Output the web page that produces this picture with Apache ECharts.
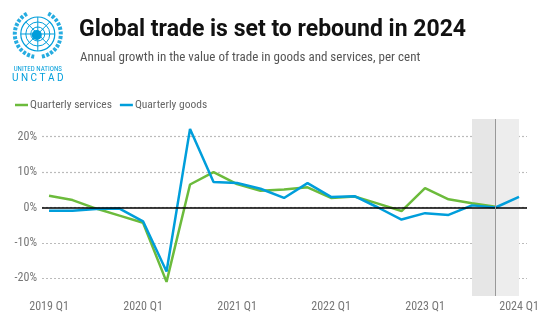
<!DOCTYPE html>
<html>
<head>
<meta charset="utf-8">
<script src="https://cdn.jsdelivr.net/npm/echarts@6/dist/echarts.min.js"></script>
<style>html,body{margin:0;padding:0;background:#fff}#c{width:543px;height:325px}</style>
</head>
<body>
<div id="c"></div>
<script>
const categories = ['2019 Q1','2019 Q2','2019 Q3','2019 Q4','2020 Q1','2020 Q2','2020 Q3','2020 Q4','2021 Q1','2021 Q2','2021 Q3','2021 Q4','2022 Q1','2022 Q2','2022 Q3','2022 Q4','2023 Q1','2023 Q2','2023 Q3','2023 Q4','2024 Q1'];
const services = [3.3, 2.1, -0.3, -2.3, -4.3, -21.0, 6.5, 10.0, 6.6, 4.7, 5.1, 5.7, 2.7, 3.1, 1.1, -1.0, 5.5, 2.3, 1.2, 0.2, null];
const goods = [-0.9, -0.9, -0.4, -0.3, -3.9, -18.1, 22.2, 7.2, 6.9, 5.3, 2.7, 6.9, 3.0, 3.2, 0.0, -3.4, -1.6, -2.1, 0.6, 0.0, 3.0];
const xTickLabels = ['2019 Q1','2020 Q1','2021 Q1','2022 Q1','2023 Q1','2024 Q1'];
const yTicks = [-20, -10, 0, 10, 20];
const forecastStart = '2023 Q3', forecastMid = '2023 Q4', forecastEnd = '2024 Q1';

const idx = c => categories.indexOf(c);
const toPairs = arr => arr.map((v, i) => [i, v]).filter(p => p[1] !== null);
const narrow = "'Roboto Condensed','Liberation Sans Narrow',Roboto,sans-serif";
const BLUE = '#009edb', GREEN = '#6cbb3c';

const chart = echarts.init(document.getElementById('c'), null, {renderer: 'canvas'});

const logo = {
  type: 'group', left: 12, top: 11,
  children: [
    {type: 'circle', shape: {cx: 29, cy: 22, r: 17}, style: {fill: 'none', stroke: BLUE, lineWidth: 1.2}},
    {type: 'circle', shape: {cx: 29, cy: 22, r: 12}, style: {fill: 'none', stroke: BLUE, lineWidth: 1}},
    {type: 'circle', shape: {cx: 29, cy: 22, r: 7}, style: {fill: 'none', stroke: BLUE, lineWidth: 1}},
    {type: 'line', shape: {x1: 12, y1: 22, x2: 46, y2: 22}, style: {stroke: BLUE, lineWidth: 1}},
    {type: 'line', shape: {x1: 29, y1: 5, x2: 29, y2: 39}, style: {stroke: BLUE, lineWidth: 1}},
    {type: 'line', shape: {x1: 17, y1: 10, x2: 41, y2: 34}, style: {stroke: BLUE, lineWidth: 1}},
    {type: 'line', shape: {x1: 41, y1: 10, x2: 17, y2: 34}, style: {stroke: BLUE, lineWidth: 1}},
    {type: 'circle', shape: {cx: 28, cy: 23, r: 5}, style: {fill: BLUE}},
    {type: 'arc', shape: {cx: 29, cy: 22, r: 23, startAngle: Math.PI * 0.55, endAngle: Math.PI * 1.35}, style: {fill: 'none', stroke: BLUE, lineWidth: 4, lineDash: [3, 1.5], opacity: 0.85}},
    {type: 'arc', shape: {cx: 29, cy: 22, r: 23, startAngle: Math.PI * 1.65, endAngle: Math.PI * 2.45}, style: {fill: 'none', stroke: BLUE, lineWidth: 4, lineDash: [3, 1.5], opacity: 0.85}},
    {type: 'text', style: {text: 'UNITED NATIONS', x: 29, y: 54, align: 'center', verticalAlign: 'top', fill: BLUE, font: '7px ' + narrow}},
    {type: 'text', style: {text: 'U N C T A D', x: 29, y: 62, align: 'center', verticalAlign: 'top', fill: BLUE, font: '10px Roboto, sans-serif'}}
  ]
};

const option = {
  animation: false,
  backgroundColor: '#fff',
  title: [
    {text: 'Global trade is set to rebound in 2024', left: 74, top: 14,
     textStyle: {fontFamily: 'Roboto, sans-serif', fontWeight: 'bold', fontSize: 23, color: '#111'}},
    {text: 'Annual growth in the value of trade in goods and services, per cent', left: 75, top: 46,
     textStyle: {fontFamily: narrow, fontWeight: 'normal', fontSize: 13, color: '#555'}}
  ],
  graphic: [logo],
  legend: {
    left: 10, top: 94, itemWidth: 13, itemHeight: 2.5, itemGap: 8, icon: 'rect',
    textStyle: {fontFamily: narrow, fontSize: 11.5, color: '#666', padding: [0, 0, 0, -3]},
    data: ['Quarterly services', 'Quarterly goods']
  },
  grid: {left: 42, right: 16, top: 119, bottom: 29, containLabel: false},
  xAxis: {
    type: 'value', min: -0.3, max: 20.34,
    axisLine: {show: false}, axisTick: {show: false}, splitLine: {show: false},
    axisLabel: {
      customValues: xTickLabels.map(idx),
      formatter: v => categories[Math.round(v)] || '',
      color: '#777', fontFamily: narrow, fontSize: 12, margin: 5
    }
  },
  yAxis: {
    type: 'value', min: -25, max: 25, interval: 5,
    axisLine: {show: false}, axisTick: {show: false},
    axisLabel: {
      formatter: v => yTicks.indexOf(v) >= 0 ? v + '%' : '',
      color: '#777', fontFamily: narrow, fontSize: 12, margin: 5
    },
    splitLine: {show: true, lineStyle: {color: ['rgba(0,0,0,0)', '#bbb'], type: [2, 2], width: 1.2}}
  },
  series: [
    {
      name: 'Quarterly services', type: 'line', data: toPairs(services),
      symbol: 'none', lineStyle: {color: GREEN, width: 2.5}, itemStyle: {color: GREEN}, z: 3,
      markArea: {
        silent: true,
        data: [
          [{xAxis: idx(forecastStart), itemStyle: {color: '#e6e6e6'}}, {xAxis: idx(forecastMid)}],
          [{xAxis: idx(forecastMid), itemStyle: {color: '#ededed'}}, {xAxis: idx(forecastEnd)}]
        ]
      },
      markLine: {
        silent: true, symbol: 'none', label: {show: false},
        data: [
          {yAxis: 0, lineStyle: {color: '#000', width: 1.5, type: 'solid'}},
          {xAxis: idx(forecastMid), lineStyle: {color: '#999', width: 1, type: 'solid'}}
        ]
      }
    },
    {
      name: 'Quarterly goods', type: 'line', data: toPairs(goods),
      symbol: 'none', lineStyle: {color: BLUE, width: 2.5}, itemStyle: {color: BLUE}, z: 4
    }
  ]
};
chart.setOption(option);
</script>
</body>
</html>
